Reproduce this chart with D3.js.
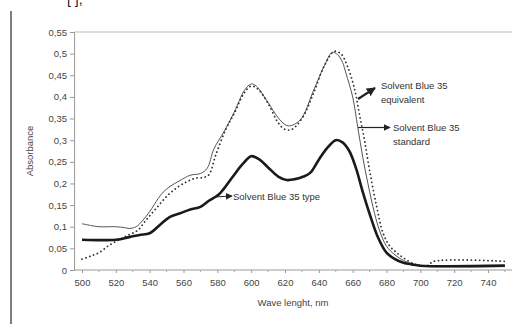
<!DOCTYPE html>
<html>
<head>
<meta charset="utf-8">
<script src="https://cdn.jsdelivr.net/npm/d3@7"></script>
<style>
  body { margin: 0; background: #fff; }
  svg { display: block; font-family: "Liberation Sans", Arial, sans-serif; }
</style>
</head>
<body>
<div class="chart"></div>
<script>
// wavelengths (nm) and absorbance
var stdWave = [500, 505, 510, 520, 525, 528, 532, 536, 540, 545, 548, 552, 558, 564, 570, 574, 578, 584, 590, 596, 600, 603, 609, 617, 622, 629, 637, 643, 648, 651, 654, 656, 660, 663, 666, 669, 673, 676, 680, 685, 690, 695, 700, 705, 750];
var stdAbs  = [0.107, 0.103, 0.1, 0.1, 0.098, 0.096, 0.1, 0.115, 0.135, 0.165, 0.18, 0.193, 0.207, 0.219, 0.223, 0.235, 0.28, 0.32, 0.365, 0.415, 0.43, 0.425, 0.393, 0.347, 0.333, 0.347, 0.416, 0.47, 0.503, 0.498, 0.48, 0.455, 0.40, 0.33, 0.26, 0.2, 0.13, 0.09, 0.055, 0.035, 0.022, 0.014, 0.01, 0.008, 0.008];

var eqWave = [500, 505, 510, 516, 522, 527, 533, 538, 544, 550, 556, 562, 567, 572, 575, 579, 585, 590, 596, 600, 604, 610, 616, 620, 624, 630, 637, 643, 649, 653, 657, 661, 664, 667, 670, 674, 678, 682, 686, 690, 697, 704, 708, 750];
var eqAbs  = [0.025, 0.032, 0.04, 0.057, 0.07, 0.08, 0.092, 0.116, 0.143, 0.17, 0.19, 0.204, 0.212, 0.214, 0.22, 0.265, 0.325, 0.362, 0.41, 0.425, 0.418, 0.385, 0.34, 0.325, 0.325, 0.35, 0.41, 0.47, 0.505, 0.5, 0.47, 0.42, 0.36, 0.3, 0.23, 0.15, 0.085, 0.055, 0.04, 0.028, 0.013, 0.01, 0.02, 0.02];

var typeWave = [500, 520, 528, 534, 540, 546, 552, 558, 564, 570, 575, 581, 589, 595, 600, 605, 610, 616, 621, 626, 631, 635, 640, 645, 650, 654, 658, 662, 666, 670, 675, 680, 685, 690, 695, 700, 750];
var typeAbs  = [0.07, 0.07, 0.076, 0.081, 0.085, 0.104, 0.123, 0.131, 0.14, 0.146, 0.16, 0.175, 0.215, 0.245, 0.263, 0.255, 0.237, 0.216, 0.208, 0.21, 0.216, 0.225, 0.255, 0.282, 0.30, 0.295, 0.275, 0.235, 0.18, 0.13, 0.075, 0.04, 0.025, 0.017, 0.013, 0.01, 0.01];

var xTicks = [500, 520, 540, 560, 580, 600, 620, 640, 660, 680, 700, 720, 740];
var yTicks = [0, 0.05, 0.1, 0.15, 0.2, 0.25, 0.3, 0.35, 0.4, 0.45, 0.5, 0.55];

var width = 512, height = 324;

var svg = d3.select(".chart").append("svg")
    .attr("width", width)
    .attr("height", height);

// scales: 500nm sits at x=82, 740 at x=488; y 0 at 270, 0.55 at 32
var x = d3.scaleLinear().domain([500, 740]).range([82, 488]);
var y = d3.scaleLinear().domain([0, 0.55]).range([270, 32]);

var left = x(495.3), right = x(760);

// page border line on the left
svg.append("line")
    .attr("x1", 11).attr("x2", 11).attr("y1", 11).attr("y2", height)
    .attr("stroke", "#555").attr("stroke-width", 1.5);

// cropped bits of the page text at the top
svg.append("text").attr("x", 67).attr("y", 4)
    .attr("font-size", 14).attr("fill", "#222").text("[  ],");

// plot frame (top line)
svg.append("line")
    .attr("x1", left).attr("x2", right).attr("y1", y(0.55)).attr("y2", y(0.55))
    .attr("stroke", "#bbb").attr("stroke-width", 1.2);

// y axis
var yAxis = svg.append("g")
    .attr("transform", "translate(" + left + ",0)")
    .call(d3.axisLeft(y).tickValues(yTicks).tickSize(4).tickPadding(3)
        .tickFormat(d => d3.format(",.2~f")(d).replace(".", ",")));
yAxis.select(".domain").attr("stroke", "#999");
yAxis.selectAll(".tick line").attr("stroke", "#999");
yAxis.selectAll("text").attr("font-size", 9.5).attr("fill", "#444")
    .attr("font-family", "Liberation Sans, Arial, sans-serif");

// x axis
var xAxis = svg.append("g")
    .attr("transform", "translate(0," + y(0) + ")")
    .call(d3.axisBottom(x).tickValues(xTicks).tickSize(3).tickPadding(6).tickSizeOuter(0));
xAxis.select(".domain").attr("d", "M" + left + ",0H" + right).attr("stroke", "#999");
xAxis.selectAll(".tick line").attr("stroke", "#999");
xAxis.selectAll("text").attr("font-size", 9.5).attr("fill", "#444")
    .attr("font-family", "Liberation Sans, Arial, sans-serif");
// minor ticks
svg.append("g").selectAll("line")
    .data(d3.range(510, 760, 20))
    .join("line")
    .attr("x1", d => x(d)).attr("x2", d => x(d))
    .attr("y1", y(0)).attr("y2", y(0) + 2)
    .attr("stroke", "#aaa");

// axis titles
svg.append("text")
    .attr("transform", "translate(33," + ((y(0) + y(0.55)) / 2) + ") rotate(-90)")
    .attr("text-anchor", "middle")
    .attr("font-size", 9.5).attr("fill", "#444")
    .text("Absorbance");
svg.append("text")
    .attr("x", (left + width) / 2).attr("y", 306)
    .attr("text-anchor", "middle")
    .attr("font-size", 9.5).attr("fill", "#444")
    .text("Wave lenght, nm");

var line = d3.line()
    .x(d => x(d[0]))
    .y(d => y(d[1]))
    .curve(d3.curveCatmullRom.alpha(0.5));

var zip = (a, b) => a.map((v, i) => [v, b[i]]);

// Solvent Blue 35 standard - thin solid
svg.append("path")
    .datum(zip(stdWave, stdAbs))
    .attr("d", line)
    .attr("fill", "none")
    .attr("stroke", "#555")
    .attr("stroke-width", 1);

// Solvent Blue 35 equivalent - dotted
svg.append("path")
    .datum(zip(eqWave, eqAbs))
    .attr("d", line)
    .attr("fill", "none")
    .attr("stroke", "#333")
    .attr("stroke-width", 1.8)
    .attr("stroke-linecap", "round")
    .attr("stroke-dasharray", "0.1,4");

// Solvent Blue 35 type - thick solid
svg.append("path")
    .datum(zip(typeWave, typeAbs))
    .attr("d", line)
    .attr("fill", "none")
    .attr("stroke", "#1a1a1a")
    .attr("stroke-width", 2.6);

// arrows and annotations
var defs = svg.append("defs");
defs.append("marker")
    .attr("id", "head")
    .attr("viewBox", "0 0 10 10")
    .attr("refX", 9).attr("refY", 5)
    .attr("markerWidth", 7).attr("markerHeight", 7)
    .attr("markerUnits", "userSpaceOnUse")
    .attr("orient", "auto")
  .append("path")
    .attr("d", "M0,0L10,5L0,10z")
    .attr("fill", "#222");
defs.append("marker")
    .attr("id", "headBig")
    .attr("viewBox", "0 0 10 10")
    .attr("refX", 9).attr("refY", 5)
    .attr("markerWidth", 9).attr("markerHeight", 9)
    .attr("markerUnits", "userSpaceOnUse")
    .attr("orient", "auto")
  .append("path")
    .attr("d", "M0,0L10,5L0,10z")
    .attr("fill", "#222");

svg.append("line")
    .attr("x1", 358).attr("y1", 99).attr("x2", 375).attr("y2", 88)
    .attr("stroke", "#222").attr("stroke-width", 2.2)
    .attr("marker-end", "url(#headBig)");
svg.append("line")
    .attr("x1", 358).attr("y1", 127.5).attr("x2", 390).attr("y2", 127.5)
    .attr("stroke", "#222").attr("stroke-width", 1.2)
    .attr("marker-end", "url(#head)");
svg.append("line")
    .attr("x1", 214).attr("y1", 197).attr("x2", 232).attr("y2", 196)
    .attr("stroke", "#222").attr("stroke-width", 1.2)
    .attr("marker-end", "url(#head)");

var notes = [
  {x: 381, y: 89, t: "Solvent Blue 35"},
  {x: 381, y: 103, t: "equivalent"},
  {x: 393, y: 131, t: "Solvent Blue 35"},
  {x: 393, y: 145, t: "standard"},
  {x: 233, y: 200, t: "Solvent Blue 35 type"}
];
svg.append("g").selectAll("text")
    .data(notes)
    .join("text")
    .attr("x", d => d.x).attr("y", d => d.y)
    .attr("font-size", 9.5).attr("fill", "#333")
    .text(d => d.t);
</script>
</body>
</html>
